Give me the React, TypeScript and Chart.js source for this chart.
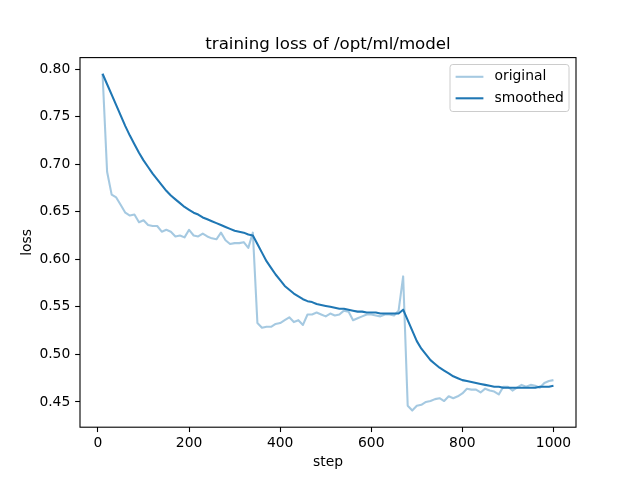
import React, { useEffect, useRef } from "react";
import { Chart, registerables } from "chart.js";

Chart.register(...registerables);

const steps = [
  10, 20, 30, 40, 50, 60, 70, 80, 90, 100,
  110, 120, 130, 140, 150, 160, 170, 180, 190, 200,
  210, 220, 230, 240, 250, 260, 270, 280, 290, 300,
  310, 320, 330, 340, 350, 360, 370, 380, 390, 400,
  410, 420, 430, 440, 450, 460, 470, 480, 490, 500,
  510, 520, 530, 540, 550, 560, 570, 580, 590, 600,
  610, 620, 630, 640, 650, 660, 670, 680, 690, 700,
  710, 720, 730, 740, 750, 760, 770, 780, 790, 800,
  810, 820, 830, 840, 850, 860, 870, 880, 890, 900,
  910, 920, 930, 940, 950, 960, 970, 980, 990, 1000,
];

const original = [
  0.795, 0.692, 0.668, 0.665, 0.657, 0.649, 0.646, 0.647, 0.639, 0.641,
  0.636, 0.635, 0.635, 0.629, 0.631, 0.629, 0.624, 0.625, 0.623, 0.631,
  0.625, 0.624, 0.627, 0.624, 0.622, 0.621, 0.628, 0.620, 0.616, 0.617,
  0.617, 0.618, 0.612, 0.628, 0.533, 0.528, 0.529, 0.529, 0.532, 0.533,
  0.536, 0.539, 0.534, 0.536, 0.531, 0.542, 0.542, 0.544, 0.542, 0.540,
  0.543, 0.541, 0.542, 0.546, 0.545, 0.536, 0.538, 0.540, 0.542, 0.542,
  0.541, 0.540, 0.542, 0.542, 0.541, 0.546, 0.582, 0.446, 0.441, 0.446,
  0.447, 0.450, 0.451, 0.453, 0.454, 0.451, 0.456, 0.454, 0.456, 0.459,
  0.464, 0.463, 0.463, 0.460, 0.464, 0.462, 0.461, 0.458, 0.466, 0.466,
  0.462, 0.465, 0.468, 0.466, 0.468, 0.467, 0.465, 0.470, 0.472, 0.473,
];

const smoothed = [
  0.795, 0.784, 0.773, 0.762, 0.751, 0.740, 0.730, 0.721, 0.712, 0.704,
  0.697, 0.690, 0.684, 0.678, 0.672, 0.667, 0.663, 0.659, 0.655, 0.652,
  0.649, 0.647, 0.644, 0.642, 0.640, 0.638, 0.636, 0.634, 0.632, 0.630,
  0.629, 0.628, 0.626, 0.625, 0.616, 0.607, 0.598, 0.591, 0.584, 0.578,
  0.572, 0.568, 0.564, 0.561, 0.558, 0.556, 0.555, 0.553, 0.552, 0.551,
  0.550, 0.549, 0.548, 0.548, 0.547, 0.546, 0.545, 0.545, 0.544, 0.544,
  0.544, 0.543, 0.543, 0.543, 0.543, 0.543, 0.547, 0.536, 0.525, 0.514,
  0.506, 0.500, 0.494, 0.490, 0.486, 0.483, 0.480, 0.477, 0.475, 0.473,
  0.472, 0.471, 0.470, 0.469, 0.468, 0.467, 0.466, 0.466, 0.465, 0.465,
  0.465, 0.465, 0.465, 0.465, 0.465, 0.465, 0.466, 0.466, 0.466, 0.467,
];

const xTicks = [0, 200, 400, 600, 800, 1000];
const yTicks = [0.45, 0.5, 0.55, 0.6, 0.65, 0.7, 0.75, 0.8];

const TITLE = "training loss of /opt/ml/model";
const X_LABEL = "step";
const Y_LABEL = "loss";
const FONT = "'DejaVu Sans', sans-serif";
const FS = 13.89;

const framePlugin = {
  id: "mplFrame",
  afterDraw(chart: any) {
    const { ctx, chartArea } = chart;
    ctx.save();
    // frame
    ctx.strokeStyle = "#000";
    ctx.lineWidth = 1.1;
    ctx.strokeRect(chartArea.left, chartArea.top, chartArea.right - chartArea.left, chartArea.bottom - chartArea.top);
    // title
    ctx.fillStyle = "#000";
    ctx.font = `16.67px ${FONT}`;
    ctx.textAlign = "center";
    ctx.textBaseline = "alphabetic";
    ctx.fillText(TITLE, (chartArea.left + chartArea.right) / 2, chartArea.top - 8.33);
    // legend
    const ds = chart.data.datasets;
    const bx = 450, by = 64.5, bw = 119, bh = 47;
    ctx.beginPath();
    const r = 2.8;
    ctx.moveTo(bx + r, by);
    ctx.lineTo(bx + bw - r, by);
    ctx.arcTo(bx + bw, by, bx + bw, by + r, r);
    ctx.lineTo(bx + bw, by + bh - r);
    ctx.arcTo(bx + bw, by + bh, bx + bw - r, by + bh, r);
    ctx.lineTo(bx + r, by + bh);
    ctx.arcTo(bx, by + bh, bx, by + bh - r, r);
    ctx.lineTo(bx, by + r);
    ctx.arcTo(bx, by, bx + r, by, r);
    ctx.closePath();
    ctx.fillStyle = "rgba(255,255,255,0.8)";
    ctx.fill();
    ctx.strokeStyle = "#cccccc";
    ctx.lineWidth = 1;
    ctx.stroke();
    ctx.font = `${FS}px ${FONT}`;
    ctx.textAlign = "left";
    ctx.textBaseline = "middle";
    ds.forEach((d: any, i: number) => {
      const cy = by + 12.3 + i * 21.5;
      ctx.beginPath();
      ctx.moveTo(bx + 5.6, cy);
      ctx.lineTo(bx + 33.4, cy);
      ctx.strokeStyle = d.borderColor;
      ctx.lineWidth = 2.08;
      ctx.stroke();
      ctx.fillStyle = "#000";
      ctx.fillText(d.label, bx + 44.5, cy);
    });
    ctx.restore();
  },
};

export default function App() {
  const ref = useRef<HTMLCanvasElement | null>(null);
  useEffect(() => {
    if (!ref.current) return;
    const chart = new Chart(ref.current, {
      type: "line",
      data: {
        datasets: [
          {
            label: "original",
            data: steps.map((s, i) => ({ x: s, y: original[i] })),
            borderColor: "rgba(31,119,180,0.4)",
            backgroundColor: "rgba(31,119,180,0.4)",
            borderWidth: 2.08,
            pointRadius: 0,
            tension: 0,
            borderJoinStyle: "round",
            order: 2,
          },
          {
            label: "smoothed",
            data: steps.map((s, i) => ({ x: s, y: smoothed[i] })),
            borderColor: "#1f77b4",
            backgroundColor: "#1f77b4",
            borderWidth: 2.08,
            pointRadius: 0,
            tension: 0,
            borderJoinStyle: "round",
            order: 1,
          },
        ],
      },
      options: {
        responsive: false,
        animation: false,
        layout: { padding: { left: 0, top: 57.6, right: 64, bottom: 0 } },
        plugins: { legend: { display: false }, tooltip: { enabled: false }, title: { display: false } },
        scales: {
          x: {
            type: "linear",
            min: -39.5,
            max: 1049.5,
            afterBuildTicks: (scale: any) => {
              scale.ticks = xTicks.map((v) => ({ value: v }));
            },
            afterFit: (scale: any) => {
              scale.height = 52.8;
            },
            grid: { display: true, drawOnChartArea: false, drawTicks: true, tickLength: 4.86, tickWidth: 1.1, tickColor: "#000" },
            border: { display: false },
            ticks: {
              autoSkip: false,
              maxRotation: 0,
              padding: 3,
              color: "#000",
              font: { family: FONT, size: FS },
              callback: (v: any) => String(v),
            },
            title: {
              display: true,
              text: X_LABEL,
              color: "#000",
              font: { family: FONT, size: FS },
              padding: { top: 0, bottom: 9.7 },
            },
          },
          y: {
            type: "linear",
            min: 0.4235,
            max: 0.812,
            afterBuildTicks: (scale: any) => {
              scale.ticks = yTicks.map((v) => ({ value: v }));
            },
            afterFit: (scale: any) => {
              scale.width = 80;
            },
            grid: { display: true, drawOnChartArea: false, drawTicks: true, tickLength: 4.86, tickWidth: 1.1, tickColor: "#000" },
            border: { display: false },
            ticks: {
              autoSkip: false,
              padding: 4.86,
              color: "#000",
              font: { family: FONT, size: FS },
              callback: (v: any) => Number(v).toFixed(2),
            },
            title: {
              display: true,
              text: Y_LABEL,
              color: "#000",
              font: { family: FONT, size: FS },
              padding: { top: 18.7, bottom: 0 },
            },
          },
        },
      },
      plugins: [framePlugin],
    } as any);
    return () => chart.destroy();
  }, []);
  return (
    <div style={{ position: "absolute", left: 0, top: 0, width: 640, height: 480, background: "#fff" }}>
      <canvas ref={ref} width={640} height={480} />
    </div>
  );
}
